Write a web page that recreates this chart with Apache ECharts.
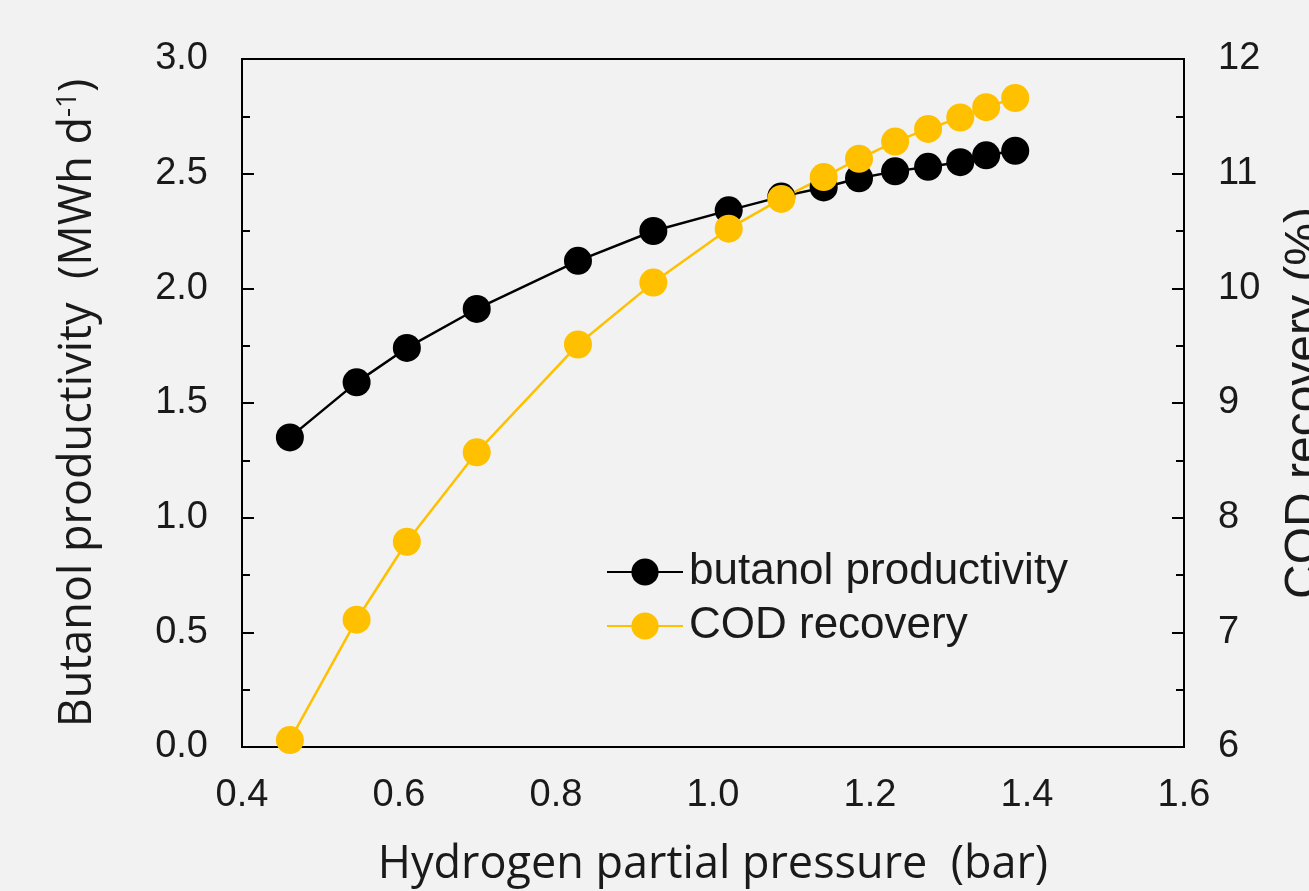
<!DOCTYPE html>
<html>
<head>
<meta charset="utf-8">
<script src="https://cdn.jsdelivr.net/npm/echarts@6/dist/echarts.min.js"></script>
<style>
  html, body { margin: 0; padding: 0; background: #f2f2f2; }
  #chart { width: 1309px; height: 891px; }
</style>
</head>
<body>
<div id="chart"></div>
<script>
// hydrogen partial pressure (bar)
const pressure = [0.461, 0.546, 0.610, 0.699, 0.828, 0.924, 1.020, 1.087, 1.141, 1.186, 1.232, 1.274, 1.315, 1.348, 1.385];
// butanol productivity (MWh d-1)
const butanol = [1.35, 1.59, 1.74, 1.91, 2.12, 2.25, 2.34, 2.40, 2.44, 2.48, 2.51, 2.53, 2.55, 2.58, 2.60];
// COD recovery (%)
const codRecovery = [6.06, 7.11, 7.79, 8.57, 9.51, 10.05, 10.52, 10.78, 10.97, 11.13, 11.28, 11.39, 11.49, 11.58, 11.66];

const tickFont = { fontFamily: 'Liberation Sans, Arial, sans-serif', fontSize: 38, color: '#1a1a1a' };
const titleFont = { fontFamily: 'Open Sans, Noto Sans, sans-serif', fontSize: 45, color: '#1a1a1a' };

const chart = echarts.init(document.getElementById('chart'));
chart.setOption({
  backgroundColor: '#f2f2f2',
  animation: false,
  grid: {
    left: 242, right: 125, top: 59, bottom: 144,
    outerBoundsMode: 'none', containLabel: false,
    show: true, borderColor: '#000', borderWidth: 2, backgroundColor: 'transparent'
  },
  legend: {
    orient: 'vertical',
    left: 606,
    top: 550,
    padding: 0,
    itemWidth: 76,
    itemHeight: 34,
    itemGap: 10,
    textStyle: { fontFamily: 'Liberation Sans, Arial, sans-serif', fontSize: 44, lineHeight: 44, color: '#1a1a1a', padding: [0, 0, 0, 1] },
    data: ['butanol productivity', 'COD recovery']
  },
  xAxis: {
    type: 'value',
    min: 0.4, max: 1.6, interval: 0.2,
    name: 'Hydrogen partial pressure  (bar)',
    nameLocation: 'middle',
    nameGap: 96,
    nameTextStyle: titleFont,
    axisLine: { lineStyle: { color: '#000', width: 2 } },
    axisTick: { show: false },
    splitLine: { show: false },
    axisLabel: Object.assign({ margin: 30, formatter: v => v.toFixed(1) }, tickFont)
  },
  yAxis: [{
    type: 'value',
    min: 0, max: 3, interval: 0.5,
    name: 'Butanol productivity  (MWh d{sup|-1})',
    nameLocation: 'middle',
    nameRotate: 90,
    nameGap: 140,
    nameTextStyle: Object.assign({ rich: { sup: { fontFamily: 'Open Sans, Noto Sans, sans-serif', fontSize: 28, verticalAlign: 'top', padding: [0, 0, 20, 0], color: '#1a1a1a' } } }, titleFont),
    axisLine: { show: true, lineStyle: { color: '#000', width: 2 } },
    axisTick: { show: true, inside: true, length: 12, lineStyle: { color: '#000', width: 2 } },
    minorTick: { show: true, splitNumber: 2, length: 8, lineStyle: { color: '#000', width: 2 } },
    splitLine: { show: false },
    axisLabel: Object.assign({ margin: 34, formatter: v => v.toFixed(1) }, tickFont)
  }, {
    type: 'value',
    position: 'right',
    min: 6, max: 12, interval: 1,
    name: 'COD recovery (%)',
    nameLocation: 'middle',
    nameRotate: 90,
    nameGap: 97,
    nameTextStyle: { fontFamily: 'Liberation Sans, Arial, sans-serif', fontSize: 48, color: '#1a1a1a' },
    axisLine: { show: true, lineStyle: { color: '#000', width: 2 } },
    axisTick: { show: true, inside: true, length: 12, lineStyle: { color: '#000', width: 2 } },
    minorTick: { show: true, splitNumber: 2, length: 8, lineStyle: { color: '#000', width: 2 } },
    splitLine: { show: false },
    axisLabel: Object.assign({ margin: 34 }, tickFont)
  }],
  series: [{
    name: 'butanol productivity',
    type: 'line',
    yAxisIndex: 0,
    data: pressure.map((p, i) => [p, butanol[i]]),
    symbol: 'circle',
    symbolSize: 28,
    color: '#000',
    lineStyle: { width: 2.5, color: '#000' },
    itemStyle: { color: '#000' }
  }, {
    name: 'COD recovery',
    type: 'line',
    yAxisIndex: 1,
    data: pressure.map((p, i) => [p, codRecovery[i]]),
    symbol: 'circle',
    symbolSize: 28,
    color: '#ffc000',
    lineStyle: { width: 2.5, color: '#ffc000' },
    itemStyle: { color: '#ffc000' }
  }]
});
</script>
</body>
</html>
